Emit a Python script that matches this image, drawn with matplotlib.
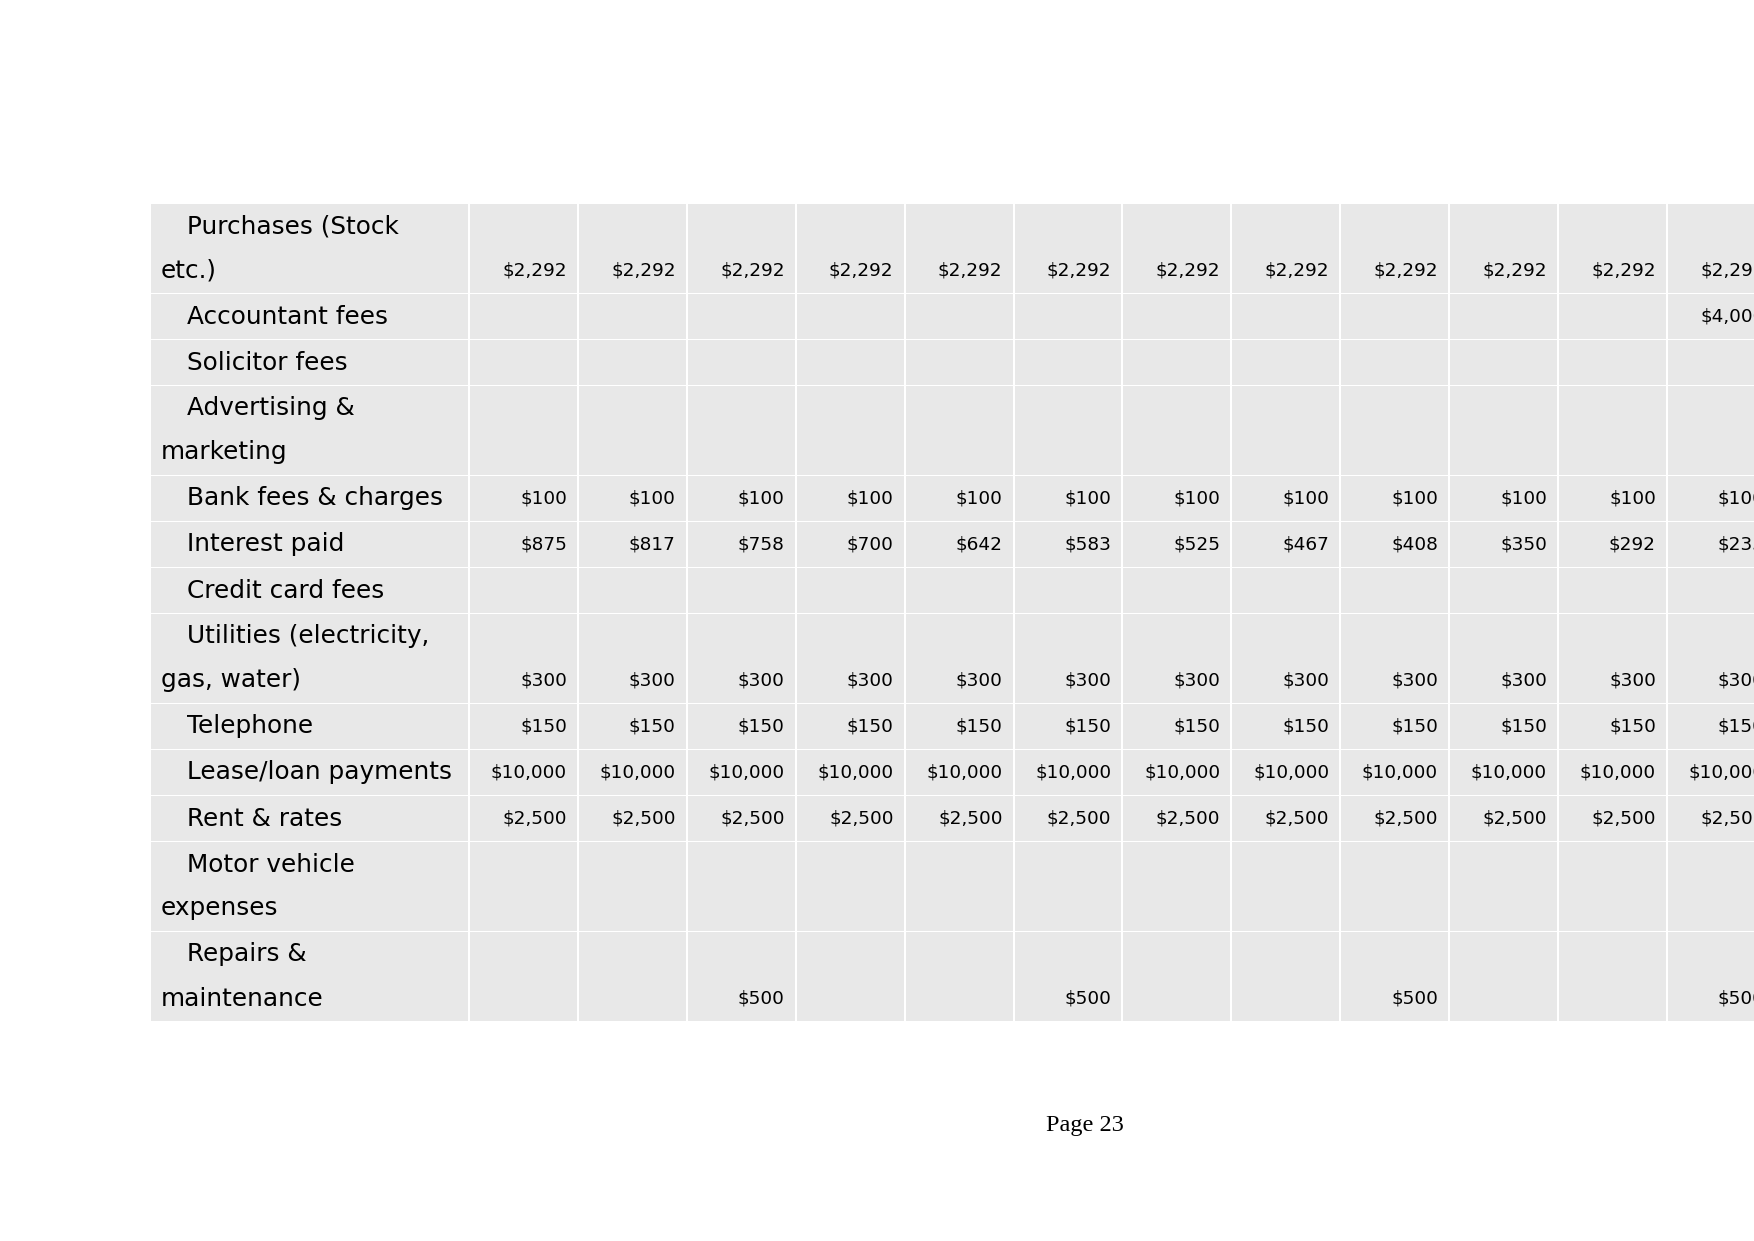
import matplotlib as mpl
mpl.use('Agg')
from matplotlib import pyplot as plt
from matplotlib.patches import Rectangle

# row labels (wrapped as in the page) and monthly values, None = blank cell
row_labels = [
    "Purchases (Stock\netc.)",
    "Accountant fees",
    "Solicitor fees",
    "Advertising &\nmarketing",
    "Bank fees & charges",
    "Interest paid",
    "Credit card fees",
    "Utilities (electricity,\ngas, water)",
    "Telephone",
    "Lease/loan payments",
    "Rent & rates",
    "Motor vehicle\nexpenses",
    "Repairs &\nmaintenance",
]

purchases = [2292] * 12
accountant = [None] * 11 + [4000]
solicitor = [None] * 12
advertising = [None] * 12
bank_fees = [100] * 12
interest = [875, 817, 758, 700, 642, 583, 525, 467, 408, 350, 292, 233]
credit_card = [None] * 12
utilities = [300] * 12
telephone = [150] * 12
lease_loan = [10000] * 12
rent_rates = [2500] * 12
motor_vehicle = [None] * 12
repairs = [None, None, 500, None, None, 500, None, None, 500, None, None, 500]

values = [purchases, accountant, solicitor, advertising, bank_fees, interest,
          credit_card, utilities, telephone, lease_loan, rent_rates,
          motor_vehicle, repairs]

W, H = 1754, 1241
fig = plt.figure(figsize=(W / 100, H / 100), dpi=100)
ax = fig.add_axes([0, 0, 1, 1])
ax.set_xlim(0, W)
ax.set_ylim(H, 0)
ax.axis('off')

cell_color = '#e8e8e8'
left = 151
top = 204
label_w = 319
col_w = 108.9
line_h = 44
single_h = 46
gap = 2

y = top
for label, vals in zip(row_labels, values):
    lines = label.split('\n')
    h = single_h + line_h * (len(lines) - 1)
    # label cell
    ax.add_patch(Rectangle((left, y), label_w - gap, h - gap + 1,
                           facecolor=cell_color, edgecolor='none'))
    bottom_line = y + h - gap - 21.5
    for i, txt in enumerate(lines):
        ty = bottom_line - line_h * (len(lines) - 1 - i)
        tx = left + 36 if i == 0 else left + 10
        ax.text(tx, ty, txt, fontsize=17.8, ha='left', va='center',
                color='black', family='DejaVu Sans')
    # value cells
    x0 = left + label_w
    for k, v in enumerate(vals):
        cx = x0 + k * col_w
        ax.add_patch(Rectangle((cx, y), col_w - gap, h - gap + 1,
                               facecolor=cell_color, edgecolor='none'))
        if v is not None:
            ax.text(cx + col_w - gap - 10, bottom_line, "${:,}".format(v),
                    fontsize=13.3, ha='right', va='center', color='black',
                    family='DejaVu Sans')
    y += h

ax.text(1085, 1125, "Page 23", fontsize=17.5, ha='center', va='center',
        family='Liberation Serif', color='black')

plt.savefig('out.png', dpi=100)
